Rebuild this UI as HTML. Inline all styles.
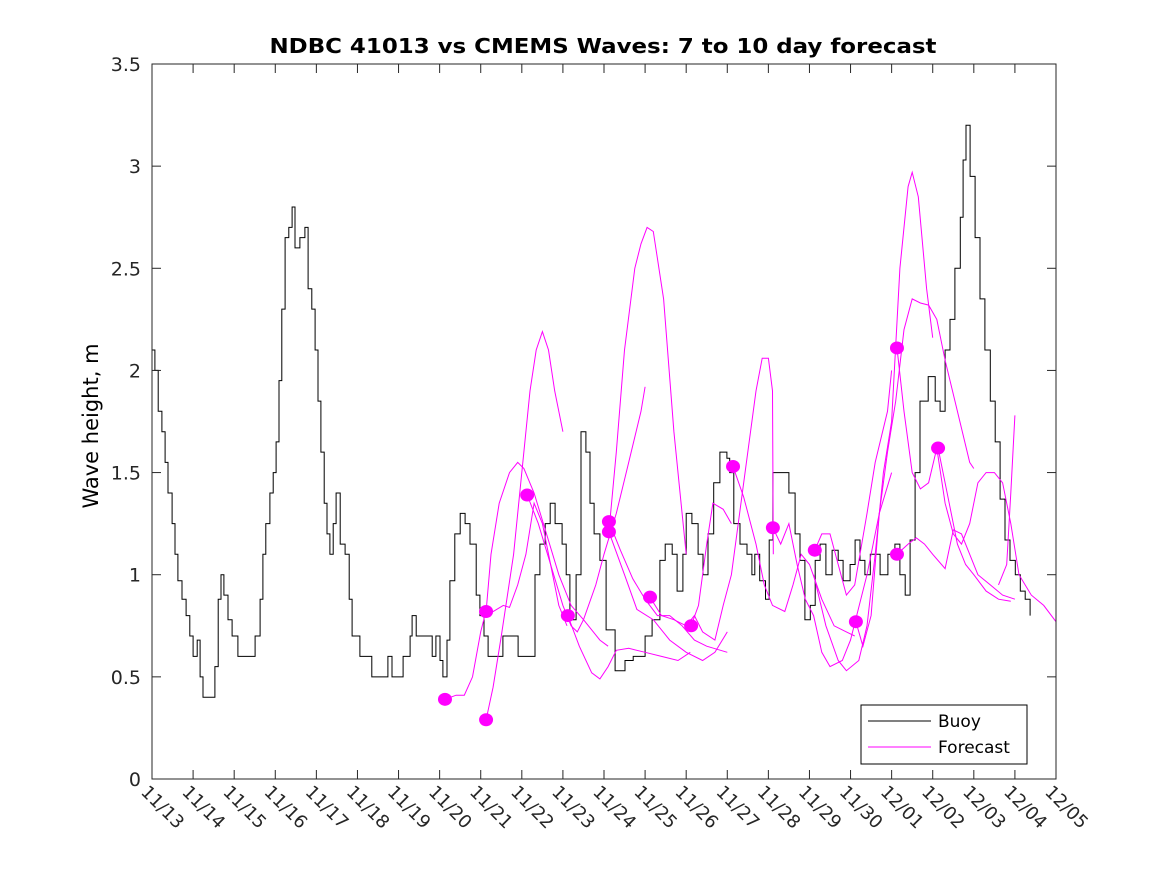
<!DOCTYPE html>
<html><head><meta charset="utf-8"><style>
html,body{margin:0;padding:0;background:#fff;}
svg{display:block;font-family:"DejaVu Sans","Liberation Sans",sans-serif;}
</style></head><body>
<svg id="chart" width="1167" height="875" xmlns="http://www.w3.org/2000/svg">
<rect x="0" y="0" width="1167" height="875" fill="#fff"/>
<text x="603" y="53" text-anchor="middle" font-weight="bold" font-size="20" textLength="667" lengthAdjust="spacingAndGlyphs">NDBC 41013 vs CMEMS Waves: 7 to 10 day forecast</text>
<text transform="translate(98,426) rotate(-90)" text-anchor="middle" font-size="21">Wave height, m</text>
<g id="plot"></g>
<g id="legend">
<rect x="861" y="705" width="166" height="59" fill="#fff" stroke="#000" stroke-width="1"/>
<line x1="868" y1="721" x2="931" y2="721" stroke="#000"/>
<text x="938" y="727" font-size="17">Buoy</text>
<line x1="868" y1="747" x2="931" y2="747" stroke="#ff00ff"/>
<text x="938" y="753" font-size="17">Forecast</text>
</g>
</svg>
<script>
const xTickLabels=["11/13","11/14","11/15","11/16","11/17","11/18","11/19","11/20","11/21","11/22","11/23","11/24","11/25","11/26","11/27","11/28","11/29","11/30","12/01","12/02","12/03","12/04","12/05"];
const yTickValues=[0,0.5,1,1.5,2,2.5,3,3.5];
const yTickLabels=["0","0.5","1","1.5","2","2.5","3","3.5"];
const buoyDays=[0,.07,.15,.24,.32,.39,.49,.56,.63,.73,.83,.92,1.00,1.10,1.17,1.24,1.46,1.53,1.61,1.68,1.75,1.85,1.95,2.09,2.39,2.51,2.63,2.70,2.77,2.87,2.95,3.02,3.09,3.16,3.24,3.33,3.41,3.48,3.60,3.72,3.80,3.89,3.97,4.04,4.11,4.19,4.26,4.33,4.41,4.48,4.58,4.70,4.80,4.87,5.06,5.35,5.67,5.74,5.84,6.11,6.28,6.33,6.43,6.82,6.91,7.01,7.08,7.18,7.25,7.37,7.50,7.62,7.74,7.89,7.98,8.08,8.18,8.47,8.54,8.81,8.91,9.20,9.32,9.44,9.57,9.69,9.81,9.98,10.08,10.17,10.32,10.44,10.56,10.66,10.76,10.90,11.05,11.27,11.51,11.71,12.00,12.17,12.36,12.49,12.66,12.78,12.92,13.00,13.14,13.29,13.41,13.53,13.67,13.82,13.99,14.06,14.16,14.31,14.48,14.60,14.67,14.79,14.93,15.02,15.11,15.33,15.50,15.65,15.77,15.89,16.02,16.14,16.26,16.40,16.55,16.70,16.82,16.99,17.11,17.23,17.35,17.48,17.72,17.91,18.08,18.20,18.33,18.45,18.57,18.69,18.89,19.06,19.18,19.30,19.42,19.54,19.67,19.74,19.81,19.91,20.03,20.15,20.27,20.40,20.52,20.64,20.76,20.88,21.01,21.13,21.25,21.37];
const buoyValues=[2.1,2.0,1.8,1.7,1.55,1.4,1.25,1.1,0.97,0.88,0.8,0.7,0.6,0.68,0.5,0.4,0.4,0.55,0.88,1.0,0.9,0.78,0.7,0.6,0.6,0.7,0.88,1.1,1.25,1.4,1.5,1.65,1.95,2.3,2.65,2.7,2.8,2.6,2.65,2.7,2.4,2.3,2.1,1.85,1.6,1.35,1.2,1.1,1.25,1.4,1.15,1.1,0.88,0.7,0.6,0.5,0.5,0.6,0.5,0.6,0.7,0.8,0.7,0.6,0.7,0.58,0.5,0.68,0.97,1.2,1.3,1.25,1.15,0.9,0.8,0.7,0.6,0.6,0.7,0.7,0.6,0.6,1.0,1.15,1.25,1.35,1.25,1.15,1.0,0.78,1.0,1.7,1.6,1.35,1.2,1.07,0.73,0.53,0.58,0.6,0.7,0.78,1.07,1.15,1.1,0.92,1.1,1.3,1.25,1.1,1.0,1.2,1.45,1.6,1.57,1.5,1.25,1.15,1.1,1.0,1.1,0.97,0.88,1.17,1.5,1.5,1.4,1.2,1.07,0.78,0.85,1.07,1.15,1.0,1.12,1.07,0.97,1.05,1.17,1.07,1.0,1.1,1.0,1.1,1.15,1.0,0.9,1.17,1.5,1.85,1.97,1.85,1.8,2.1,2.25,2.5,2.75,3.03,3.2,2.95,2.65,2.35,2.1,1.85,1.65,1.37,1.17,1.07,1.0,0.92,0.88,0.8];
const forecastDays=[
[7.13,7.4,7.6,7.8,8.0,8.1,8.3,8.55,8.7,8.9,9.1,9.3,9.5,9.7,9.9,10.1],
[8.13,8.3,8.5,8.8,9.0,9.2,9.35,9.5,9.65,9.8,10.0],
[8.13,8.25,8.45,8.7,8.9,9.05,9.3,9.6,9.9,10.2,10.5,10.9,11.1],
[9.13,9.4,9.7,10.0,10.2,10.35,10.5,10.8,11.0,11.3,11.6,11.9,12.0],
[11.12,11.3,11.5,11.75,11.9,12.05,12.2,12.45,12.7,13.0],
[10.12,10.4,10.7,10.9,11.1,11.3,11.6,12.0,12.4,12.8,13.1],
[11.12,11.5,11.8,12.2,12.6,13.0,13.4,13.7,14.0],
[11.12,11.4,11.7,12.0,12.3,12.6,12.9,13.2,13.5,14.0],
[13.12,13.3,13.5,13.65,13.9,14.1],
[12.12,12.4,12.7,13.0,13.2,13.4,13.7,13.9,14.1,14.3,14.5,14.7,14.85,15.0,15.1,15.12],
[14.14,14.4,14.7,14.9,15.1,15.4,15.6,15.8,16.0,16.3,16.6,16.9,17.1],
[15.11,15.3,15.5,15.7,15.9,16.1,16.3,16.5,16.8,17.0,17.4,17.7,18.0],
[16.13,16.3,16.5,16.7,16.9,17.1,17.4,17.6,17.9,18.0],
[17.13,17.3,17.5,17.7,17.9,18.1,18.3,18.5,18.7,18.9,19.1,19.3,19.6,19.9,20.0],
[16.1,16.4,16.7,16.9,17.2,17.4,17.6,17.8,18.0,18.2,18.4,18.5,18.65,18.85,19.0],
[18.13,18.3,18.5,18.7,18.9,19.1,19.3,19.5,19.7,19.9,20.1,20.3,20.5,20.7,20.9,21.1,21.4,21.7,22.0],
[18.13,18.4,18.6,18.8,19.0,19.3,19.5,19.7,19.9,20.1,20.4,20.7,21.0],
[20.6,20.8,20.9,21.0],
[19.13,19.4,19.6,19.8,20.0,20.3,20.6,20.9]];
const forecastValues=[
[.39,.41,.41,.50,.72,.80,.82,.85,.84,.95,1.1,1.35,1.25,1.05,.85,.75],
[.29,.45,.7,1.1,1.5,1.9,2.1,2.19,2.1,1.9,1.7],
[.82,1.1,1.35,1.5,1.55,1.52,1.4,1.2,1.0,.85,.78,.68,.65],
[1.39,1.25,1.05,.85,.75,.72,.78,.95,1.1,1.3,1.55,1.8,1.92],
[1.21,1.6,2.1,2.5,2.62,2.7,2.68,2.35,1.7,1.1],
[.80,.65,.52,.49,.55,.63,.64,.62,.60,.58,.62],
[1.21,1.0,.83,.78,.68,.62,.58,.62,.72],
[1.26,1.12,.98,.88,.80,.80,.75,.68,.65,.62],
[.75,.85,1.15,1.35,1.32,1.25],
[.89,.80,.78,.75,.80,.72,.68,.85,1.0,1.3,1.6,1.9,2.06,2.06,1.9,1.1],
[1.53,1.38,1.15,.95,.85,.82,.95,1.1,1.05,.88,.75,.72,.70],
[1.23,1.15,1.25,1.05,.88,.80,.62,.55,.58,.68,1.0,1.3,1.5],
[1.12,1.2,1.2,1.05,.9,.95,1.3,1.55,1.8,2.0],
[.77,.65,.80,1.3,1.6,1.85,2.2,2.35,2.33,2.32,2.25,2.05,1.8,1.55,1.52],
[1.0,.75,.58,.53,.58,.75,1.1,1.5,1.75,2.5,2.9,2.97,2.85,2.4,2.16],
[2.11,1.8,1.5,1.42,1.45,1.62,1.35,1.2,1.15,1.25,1.45,1.5,1.5,1.45,1.25,1.0,.9,.85,.77],
[1.10,1.15,1.18,1.15,1.10,1.03,1.22,1.2,1.1,1.0,.95,.9,.88],
[.95,1.05,1.4,1.78],
[1.62,1.35,1.15,1.05,1.0,.92,.88,.87]];
const dotDays=[7.13,8.13,8.13,9.13,10.12,11.12,11.12,12.12,13.12,14.14,15.11,16.13,17.13,18.13,18.13,19.13];
const dotValues=[0.39,0.82,0.29,1.39,0.80,1.26,1.21,0.89,0.75,1.53,1.23,1.12,0.77,2.11,1.10,1.62];

const L=152,R=1056,T=64,B=779;
const xs=d=>L+(R-L)*d/22;
const ys=v=>B-(B-T)*v/3.5;
const NS="http://www.w3.org/2000/svg";
const plot=document.getElementById('plot');
function mk(tag,attrs){const e=document.createElementNS(NS,tag);for(const k in attrs)e.setAttribute(k,attrs[k]);return e;}

let bd="M"+xs(buoyDays[0]).toFixed(1)+","+ys(buoyValues[0]).toFixed(1);
for(let i=1;i<buoyDays.length;i++){bd+=" H"+xs(buoyDays[i]).toFixed(1)+" V"+ys(buoyValues[i]).toFixed(1);}
const bp=mk('path',{d:bd,fill:'none',stroke:'#000','stroke-width':1});


plot.appendChild(bp);

for(let s=0;s<forecastDays.length;s++){
  const pts=forecastDays[s].map((d,i)=>xs(d).toFixed(1)+","+ys(forecastValues[s][i]).toFixed(1)).join(" ");
  const pl=mk('polyline',{points:pts,fill:'none',stroke:'#ff00ff','stroke-width':1});
  
  
  plot.appendChild(pl);
}
for(let i=0;i<dotDays.length;i++){
  const c=mk('ellipse',{cx:xs(dotDays[i]),cy:ys(dotValues[i]),rx:7,ry:6.5,fill:'#ff00ff'});
  
  
  plot.appendChild(c);
}
const box=mk('rect',{x:L,y:T,width:R-L,height:B-T,fill:'none',stroke:'#262626','stroke-width':1});


plot.appendChild(box);
for(let i=0;i<xTickLabels.length;i++){
  const x=xs(i);
  const t1=mk('line',{x1:x,y1:B,x2:x,y2:B-9,stroke:'#262626'});
  
  
  plot.appendChild(t1);
  const t2=mk('line',{x1:x,y1:T,x2:x,y2:T+9,stroke:'#262626'});
  
  
  plot.appendChild(t2);
  const tx=mk('text',{transform:`translate(${x-12},${793}) rotate(45)`,'font-size':18,fill:'#262626'});
  tx.textContent=xTickLabels[i];
  
  
  plot.appendChild(tx);
}
for(let i=0;i<yTickValues.length;i++){
  const y=ys(yTickValues[i]);
  const t1=mk('line',{x1:L,y1:y,x2:L+9,y2:y,stroke:'#262626'});
  
  
  plot.appendChild(t1);
  const t2=mk('line',{x1:R,y1:y,x2:R-9,y2:y,stroke:'#262626'});
  
  
  plot.appendChild(t2);
  const tx=mk('text',{x:141,y:y+7,'text-anchor':'end','font-size':19,fill:'#262626'});
  tx.textContent=yTickLabels[i];
  
  
  plot.appendChild(tx);
}
</script>
</body></html>
